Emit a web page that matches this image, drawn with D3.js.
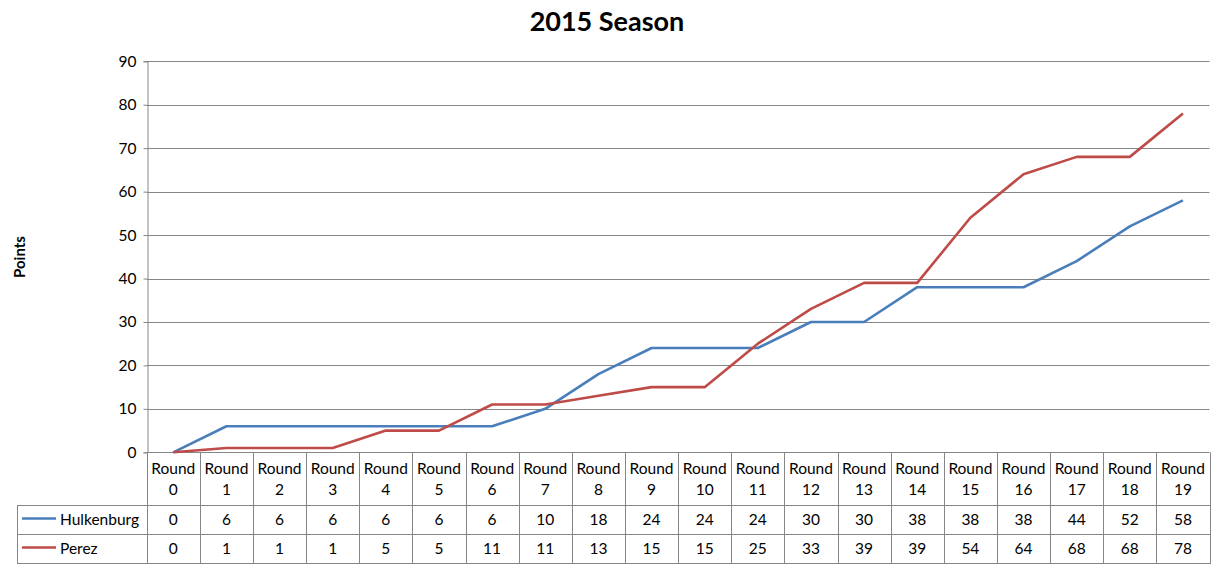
<!DOCTYPE html>
<html><head><meta charset="utf-8">
<script src="https://cdn.jsdelivr.net/npm/d3@7/dist/d3.min.js"></script>
<style>body{margin:0;background:#fff;}svg{display:block;font-family:Lato,"Open Sans",sans-serif;}</style>
</head><body><svg id="c" width="1221" height="567"></svg>
<script>
const categories = ["Round 0","Round 1","Round 2","Round 3","Round 4","Round 5","Round 6","Round 7","Round 8","Round 9","Round 10","Round 11","Round 12","Round 13","Round 14","Round 15","Round 16","Round 17","Round 18","Round 19"];
const hulkenburg = [0,6,6,6,6,6,6,10,18,24,24,24,30,30,38,38,38,44,52,58];
const perez = [0,1,1,1,5,5,11,11,13,15,15,25,33,39,39,54,64,68,68,78];
const seriesNames = ["Hulkenburg","Perez"];
const seriesColors = ["#4A7EBB","#BE4B48"];
const yTicks = [0,10,20,30,40,50,60,70,80,90];

const series = [hulkenburg, perez];
const svg = d3.select("#c");
const L = 146.7, R = 1209.5, T = 61.3, B = 452.3;
const x = d3.scaleBand().domain(categories).range([L, R]);
const y = d3.scaleLinear().domain([0, 90]).range([B, T]);
const grid = "#868686";
const fs = 15.5;

// gridlines
svg.append("g").selectAll("line").data(yTicks).join("line")
  .attr("x1", L).attr("x2", R).attr("y1", d => Math.round(y(d))+0.5).attr("y2", d => Math.round(y(d))+0.5)
  .attr("stroke", grid).attr("stroke-width", 1);

// y axis
const ya = svg.append("g").attr("transform", `translate(${Math.round(L)+0.5},0)`)
  .call(d3.axisLeft(y).tickValues(yTicks).tickSize(4).tickPadding(7).tickFormat(d3.format("d")));
ya.select(".domain").attr("stroke", grid);
ya.selectAll(".tick line").attr("stroke", grid);
ya.selectAll(".tick text").attr("font-size", fs).attr("fill", "#000").attr("font-family","Lato,'Open Sans',sans-serif");

// lines
const line = d3.line().x((d,i) => x(categories[i]) + x.bandwidth()/2).y(d => y(d));
series.forEach((s, k) => {
  svg.append("path").datum(s).attr("d", line).attr("fill","none")
    .attr("stroke", seriesColors[k]).attr("stroke-width", 2.6).attr("stroke-linejoin","round");
});

// data table
const rowY = [B, 505, 534.3, 563.3];
const TL = 17.3;
const tg = svg.append("g").attr("stroke", grid).attr("stroke-width", 1);
categories.forEach((c,i) => {
  const xx = Math.round(x(c))+0.5;
  tg.append("line").attr("x1", xx).attr("x2", xx).attr("y1", B).attr("y2", rowY[3]);
});
tg.append("line").attr("x1", Math.round(R)+0.5).attr("x2", Math.round(R)+0.5).attr("y1", B).attr("y2", rowY[3]);
tg.append("line").attr("x1", Math.round(TL)+0.5).attr("x2", Math.round(TL)+0.5).attr("y1", rowY[1]).attr("y2", rowY[3]);
[1,2,3].forEach(r => {
  const yy = Math.round(rowY[r])+0.5;
  tg.append("line").attr("x1", Math.round(TL)).attr("x2", Math.round(R)+1).attr("y1", yy).attr("y2", yy);
});

const txt = svg.append("g").attr("font-size", fs).attr("fill", "#000").attr("text-anchor","middle");
categories.forEach((c,i) => {
  const cx = x(c) + x.bandwidth()/2;
  const parts = c.split(" ");
  txt.append("text").attr("x", cx).attr("y", 474).text(parts[0]);
  txt.append("text").attr("x", cx).attr("y", 495).text(parts[1]);
  series.forEach((s,k) => {
    txt.append("text").attr("x", cx).attr("y", k===0 ? 525 : 554).text(s[i]);
  });
});
// legend keys in table
seriesNames.forEach((n,k) => {
  const cy = k===0 ? 518.5 : 547.5;
  svg.append("line").attr("x1", 22).attr("x2", 56).attr("y1", cy).attr("y2", cy)
    .attr("stroke", seriesColors[k]).attr("stroke-width", 2.6);
  svg.append("text").attr("x", 60).attr("y", k===0 ? 525 : 554).attr("font-size", fs).text(n);
});

// title
svg.append("text").attr("x", 607).attr("y", 31).attr("text-anchor","middle")
  .attr("font-size", 27).attr("font-weight","bold").text("2015 Season");
// y label
svg.append("text").attr("transform","translate(25,257) rotate(-90)").attr("text-anchor","middle")
  .attr("font-size", 15).attr("font-weight","bold").text("Points");
</script></body></html>
